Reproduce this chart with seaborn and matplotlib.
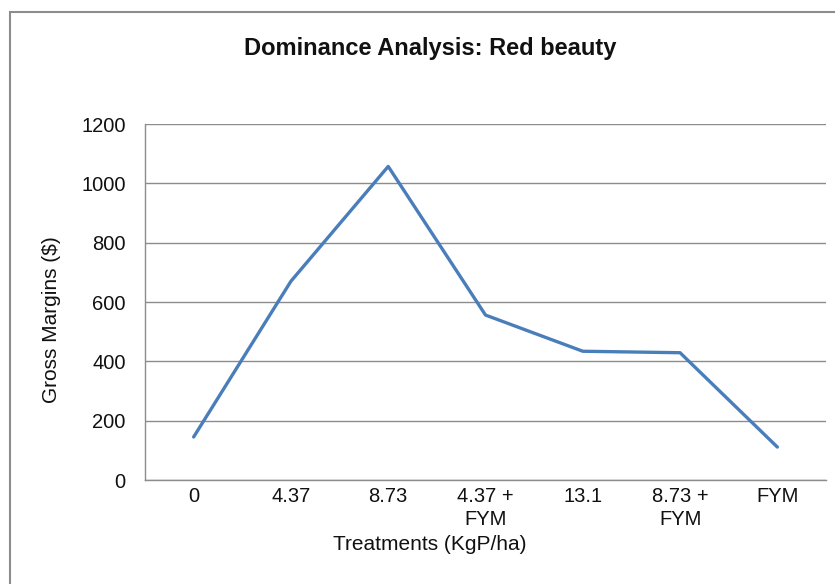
import matplotlib
matplotlib.use("Agg")
import matplotlib.pyplot as plt
import seaborn as sns
import pandas as pd
import numpy as np
from matplotlib.patches import Rectangle

# ---- data ----
treatments = ["0", "4.37", "8.73", "4.37 +\nFYM", "13.1", "8.73 +\nFYM", "FYM"]
gross_margins = [145, 670, 1057, 556, 434, 429, 111]
y_ticks = [0, 200, 400, 600, 800, 1000, 1200]

LINE_COLOR = "#4A7EBB"
GRID_COLOR = "#8C8C8C"
TEXT_COLOR = "#111111"

sns.set_theme(style="white")
plt.rcParams["font.family"] = ["Liberation Sans", "DejaVu Sans"]
plt.rcParams["text.color"] = TEXT_COLOR
plt.rcParams["axes.labelcolor"] = TEXT_COLOR
plt.rcParams["xtick.color"] = TEXT_COLOR
plt.rcParams["ytick.color"] = TEXT_COLOR

df = pd.DataFrame({"pos": np.arange(len(treatments)), "margin": gross_margins})

fig = plt.figure(figsize=(8.35, 5.84), dpi=100)
ax = fig.add_axes([145 / 835, 1 - 480 / 584, (826 - 145) / 835, (480 - 124) / 584])

sns.lineplot(data=df, x="pos", y="margin", color=LINE_COLOR, linewidth=2.4, ax=ax)

ax.set_xlim(-0.5, len(treatments) - 0.5)
ax.set_ylim(0, 1200)
ax.set_yticks(y_ticks)
ax.set_yticklabels([str(v) for v in y_ticks], fontsize=14.5)
ax.set_xticks(df["pos"])
ax.set_xticklabels(treatments, fontsize=14.5, linespacing=1.3, va="top")
ax.set_xticks(np.arange(-0.5, len(treatments)), minor=True)
ax.tick_params(axis="x", which="major", length=0, pad=5)
ax.tick_params(axis="x", which="minor", length=6, width=1, color=GRID_COLOR, direction="out")
ax.tick_params(axis="y", which="major", length=6, width=1, color=GRID_COLOR, direction="out", pad=8)

ax.yaxis.grid(True, color=GRID_COLOR, linewidth=1)
ax.set_axisbelow(True)
for side in ["top", "right"]:
    ax.spines[side].set_visible(False)
for side in ["left", "bottom"]:
    ax.spines[side].set_color(GRID_COLOR)
    ax.spines[side].set_linewidth(1)

ax.set_xlabel("Treatments (KgP/ha)", fontsize=15, va="center")
ax.xaxis.set_label_coords((430 - 145) / 681, (480 - 545) / 356)
ax.set_ylabel("Gross Margins ($)", fontsize=15, va="center", ha="center")
ax.yaxis.set_label_coords((52 - 145) / 681, (480 - 320) / 356)
fig.text(430 / 835, 1 - 48 / 584, "Dominance Analysis: Red beauty",
         fontsize=17, fontweight="bold", ha="center", va="center")

# chart-area border (only left and top edges visible in the reference)
fig.patches.append(Rectangle((10 / 835, -0.1), 1.2, 1 - 12 / 584 + 0.1,
                             transform=fig.transFigure, fill=False,
                             edgecolor="#8C8C8C", linewidth=1.5))

fig.savefig("out.png", dpi=100)
